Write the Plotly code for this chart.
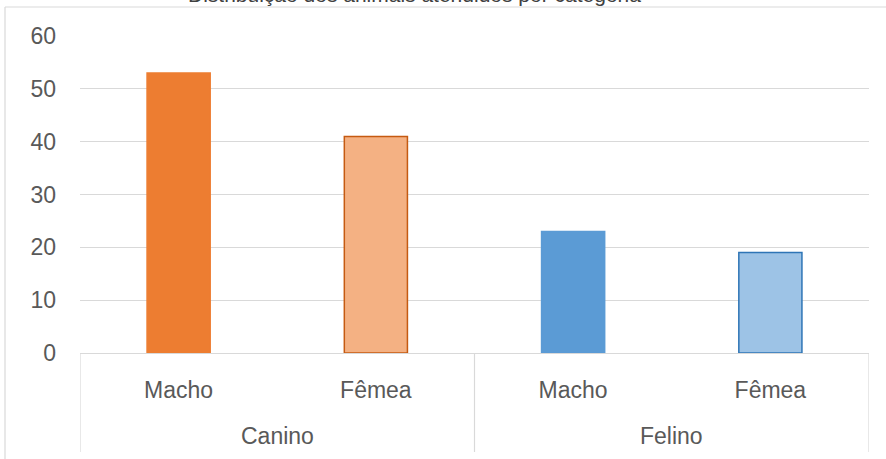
import plotly.graph_objects as go

# Chart data
groups = ["Canino", "Canino", "Felino", "Felino"]
sexes = ["Macho", "Fêmea", "Macho", "Fêmea"]
values = [53, 41, 23, 19]
fill_colors = ["#ED7D31", "#F4B183", "#5B9BD5", "#9DC3E6"]
line_colors = ["#ED7D31", "#C55A11", "#5B9BD5", "#2E75B6"]
group_names = ["Canino", "Felino"]
y_ticks = [0, 10, 20, 30, 40, 50, 60]
title_text = "Distribuição dos animais atendidos por categoria"

FONT = "Liberation Sans, Arial, sans-serif"
GRID = "#D9D9D9"
TEXT = "#595959"

positions = list(range(len(values)))

fig = go.Figure(
    go.Bar(
        x=positions,
        y=values,
        marker=dict(color=fill_colors, line=dict(color=line_colors, width=1.5)),
        width=0.32,
        hoverinfo="skip",
    )
)

W, H = 886, 459
ml, mr, mt, mb = 80, 17, 36, 106
pw = W - ml - mr
ph = H - mt - mb


def px_to_paper_x(px):
    return (px - ml) / pw


def px_to_paper_y(py):
    return (H - mb - py) / ph


shapes = []
# outer chart frame (left and top edges)
shapes.append(dict(type="line", xref="paper", yref="paper",
                   x0=px_to_paper_x(5), x1=px_to_paper_x(5),
                   y0=px_to_paper_y(H + 5), y1=px_to_paper_y(7),
                   line=dict(color=GRID, width=1.2)))
shapes.append(dict(type="line", xref="paper", yref="paper",
                   x0=px_to_paper_x(5), x1=px_to_paper_x(W + 5),
                   y0=px_to_paper_y(7), y1=px_to_paper_y(7),
                   line=dict(color=GRID, width=1.2)))
# category box dividers below the axis
for xd in [-0.5, 1.5, 3.5]:
    shapes.append(dict(type="line", xref="x", yref="paper",
                       x0=xd, x1=xd, y0=0, y1=px_to_paper_y(452),
                       line=dict(color=GRID, width=1.2)))

annotations = []
for i, g in enumerate(group_names):
    annotations.append(dict(
        x=2 * i + 0.5, xref="x", y=px_to_paper_y(436), yref="paper",
        text=g, showarrow=False, yanchor="middle", xanchor="center",
        font=dict(family=FONT, size=23, color=TEXT)))
annotations.append(dict(
    x=px_to_paper_x(414), xref="paper", y=px_to_paper_y(8), yref="paper",
    text=title_text, showarrow=False, yanchor="bottom", xanchor="center",
    font=dict(family=FONT, size=21, color="#404040")))

fig.update_layout(
    width=W, height=H,
    margin=dict(l=ml, r=mr, t=mt, b=mb, pad=0),
    paper_bgcolor="white", plot_bgcolor="white",
    showlegend=False,
    shapes=shapes,
    annotations=annotations,
    xaxis=dict(
        range=[-0.5, 3.5],
        tickmode="array", tickvals=positions, ticktext=sexes,
        showgrid=False, zeroline=False,
        showline=True, linecolor=GRID, linewidth=1.2,
        ticks="", ticklabelstandoff=16,
        tickfont=dict(family=FONT, size=23, color=TEXT),
        fixedrange=True,
    ),
    yaxis=dict(
        range=[0, 60],
        tickmode="array", tickvals=y_ticks,
        showgrid=True, gridcolor=GRID, gridwidth=1.2,
        zeroline=False, showline=False,
        ticks="", ticklabelstandoff=23,
        tickfont=dict(family=FONT, size=23, color=TEXT),
        fixedrange=True,
    ),
)

fig.write_html("out.html")
